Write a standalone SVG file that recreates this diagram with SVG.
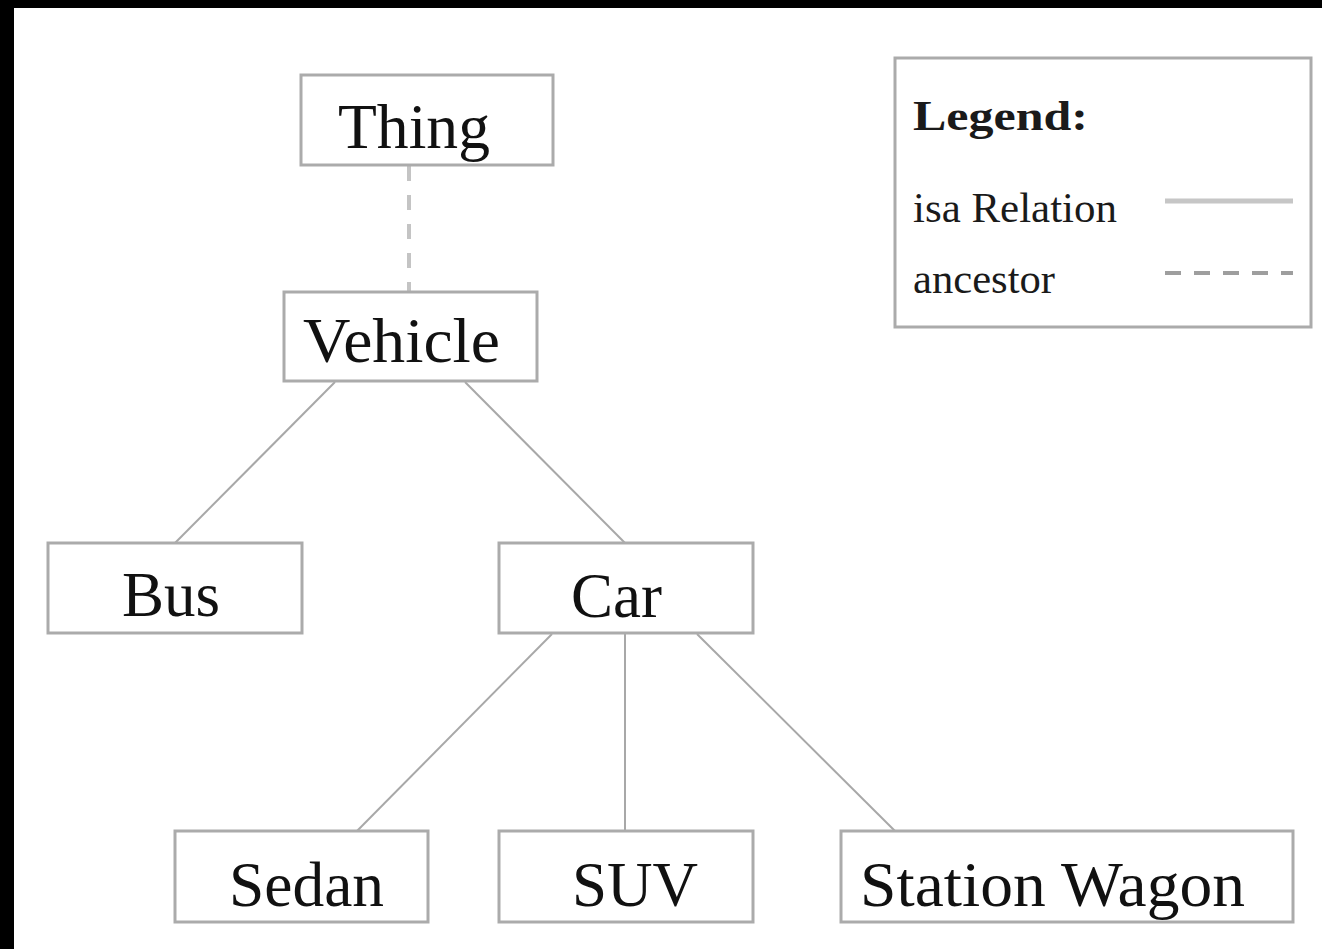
<svg xmlns="http://www.w3.org/2000/svg" width="1322" height="949" viewBox="0 0 1322 949">
  <style>
    .box { fill: #ffffff; stroke: #ababab; stroke-width: 3; }
    .label { font-family: "Liberation Serif", "Times New Roman", serif; font-size: 63px; fill: #111111; }
    .isa { stroke: #a8a8a8; stroke-width: 2; fill: none; }
    .anc { stroke: #c4c4c4; stroke-width: 4; stroke-dasharray: 15 14; fill: none; }
    .legtext { font-family: "Liberation Serif", "Times New Roman", serif; font-size: 43px; fill: #1a1a1a; }
  </style>

  <!-- page background with dark frame on top and left -->
  <rect x="0" y="0" width="1322" height="949" fill="#ffffff"/>
  <rect x="0" y="0" width="1322" height="8" fill="#000000"/>
  <rect x="0" y="0" width="14" height="949" fill="#000000"/>

  <!-- connectors -->
  <g id="connectors">
    <line class="anc" x1="409" y1="166" x2="409" y2="292"/>
    <line class="isa" x1="335" y1="382" x2="175" y2="543"/>
    <line class="isa" x1="465" y1="382" x2="625" y2="543"/>
    <line class="isa" x1="552" y1="634" x2="357" y2="831"/>
    <line class="isa" x1="625" y1="634" x2="625" y2="831"/>
    <line class="isa" x1="697" y1="634" x2="895" y2="831"/>
  </g>

  <g id="thing">
    <rect class="box" x="301" y="75" width="252" height="90"/>
    <text class="label" x="338" y="148" textLength="152" lengthAdjust="spacingAndGlyphs">Thing</text>
  </g>

  <g id="vehicle">
    <rect class="box" x="284" y="292" width="253" height="89"/>
    <text class="label" x="303" y="362" textLength="197" lengthAdjust="spacingAndGlyphs">Vehicle</text>
  </g>

  <g id="bus">
    <rect class="box" x="48" y="543" width="254" height="90"/>
    <text class="label" x="122" y="616">Bus</text>
  </g>

  <g id="car">
    <rect class="box" x="499" y="543" width="254" height="90"/>
    <text class="label" x="571" y="617">Car</text>
  </g>

  <g id="sedan">
    <rect class="box" x="175" y="831" width="253" height="91"/>
    <text class="label" x="229" y="906" textLength="155" lengthAdjust="spacingAndGlyphs">Sedan</text>
  </g>

  <g id="suv">
    <rect class="box" x="499" y="831" width="254" height="91"/>
    <text class="label" x="572" y="906">SUV</text>
  </g>

  <g id="station-wagon">
    <rect class="box" x="841" y="831" width="452" height="91"/>
    <text class="label" x="860" y="906" textLength="385" lengthAdjust="spacingAndGlyphs">Station Wagon</text>
  </g>

  <g id="legend">
    <rect class="box" x="895" y="58" width="416" height="269"/>
    <text class="legtext" x="913" y="130" font-weight="bold" font-size="51" textLength="175" lengthAdjust="spacingAndGlyphs">Legend:</text>
    <text class="legtext" x="913" y="222" textLength="204" lengthAdjust="spacingAndGlyphs">isa Relation</text>
    <text class="legtext" x="913" y="293" textLength="142" lengthAdjust="spacingAndGlyphs">ancestor</text>
    <line x1="1165" y1="201" x2="1293" y2="201" stroke="#c6c6c6" stroke-width="5"/>
    <line x1="1165" y1="273" x2="1293" y2="273" stroke="#9e9e9e" stroke-width="4" stroke-dasharray="16 13"/>
  </g>
</svg>
